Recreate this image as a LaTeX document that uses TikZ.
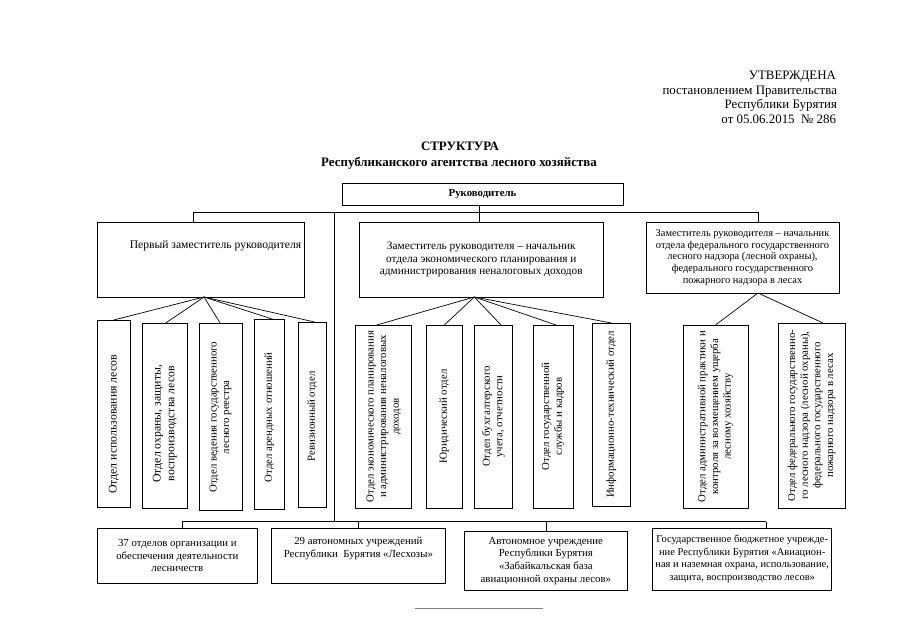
\documentclass[tikz,border=0pt]{standalone}
\usepackage{fontspec}
\setmainfont{Liberation Serif}
\usetikzlibrary{calc}
\begin{document}
\begin{tikzpicture}[x=1pt,y=-1pt,
  every node/.style={inner sep=0pt, outer sep=0pt},
  hbox/.style={draw, line width=0.7pt, align=center, font=\fontsize{10.8}{12.6}\selectfont},
  vbox/.style={draw, line width=0.7pt, align=center, rotate=90, font=\fontsize{10.8}{12.6}\selectfont},
  bigtext/.style={font=\fontsize{11.8}{13.6}\selectfont},
  link/.style={line width=0.7pt},
  hdr/.style={anchor=base east, font=\fontsize{12.9}{14.7}\selectfont},
  ttl/.style={anchor=base, font=\fontsize{12.9}{14.7}\selectfont\bfseries}]
\useasboundingbox (0,0) rectangle (905,640);

% header
\node[hdr] (h1) at (836,79) {УТВЕРЖДЕНА};
\node[hdr] (h2) at (837,94) {постановлением Правительства};
\node[hdr] (h3) at (837,108.5) {Республики Бурятия};
\node[hdr] (h4) at (836,123) {от 05.06.2015~~№ 286};
\node[ttl] (t1) at (460,150) {СТРУКТУРА};
\node[ttl] (t2) at (459,166) {Республиканского агентства лесного хозяйства};

% top level
\node[hbox, minimum width=281, minimum height=22, font=\fontsize{10.8}{12.6}\selectfont\bfseries] (R) at (482.5,194) {Руководитель};
\node[hbox, minimum width=207, minimum height=75, font=\fontsize{11.6}{12.6}\selectfont] (P1) at (200.5,259.5) {\hspace*{30pt}Первый заместитель руководителя\\ \strut\\ \strut};
\node[hbox, minimum width=243.4, minimum height=75, font=\fontsize{11.3}{12.6}\selectfont] (P2) at (481.3,259.5) {Заместитель руководителя – начальник\\ отдела экономического планирования и\\ администрирования неналоговых доходов};
\node[hbox, minimum width=193, minimum height=71, font=\fontsize{10.4}{11.8}\selectfont] (P3) at (742.5,257.5) {Заместитель руководителя – начальник\\ отдела федерального государственного\\ лесного надзора (лесной охраны),\\ федерального государственного\\ пожарного надзора в лесах};

% vertical boxes (rotated: width = box height, height = box width)
\node[vbox, bigtext, minimum width=187, minimum height=32.5] (a) at (113.75,413.5) {Отдел использования лесов\hspace*{22pt}};
\node[vbox, bigtext, minimum width=184.4, minimum height=44.3] (b) at (164.85,415.8) {Отдел охраны, защиты,\hspace*{16pt}\\ воспроизводства лесов\hspace*{16pt}};
\node[vbox, minimum width=187.1, minimum height=43] (c) at (220.5,417.15) {Отдел ведения государственного\\ лесного реестра};
\node[vbox, minimum width=189.5, minimum height=30.6] (d) at (269.3,414.25) {Отдел арендных отношений\hspace*{6pt}};
\node[vbox, minimum width=185, minimum height=27.5] (e) at (312.25,414.5) {Ревизионный отдел\hspace*{4pt}};

\node[vbox, minimum width=183, minimum height=56] (f) at (383.7,416.5) {Отдел экономического планирования\\ и администрирования неналоговых\\ доходов};
\node[vbox, minimum width=183, minimum height=36.7] (g) at (444.35,416.5) {Юридический отдел};
\node[vbox, minimum width=183, minimum height=38.7] (h) at (493.35,416.5) {Отдел бухгалтерского\\ учета, отчетности};
\node[vbox, minimum width=183, minimum height=40] (i) at (553,416.5) {Отдел государственной\\ службы и кадров};
\node[vbox, minimum width=183, minimum height=37.3] (j) at (611.35,414.5) {Информационно-технический отдел};

\node[vbox, minimum width=183, minimum height=65] (k) at (715.5,416.5) {Отдел административной практики и\\ контроля за возмещением ущерба\\ лесному хозяйству};
\node[vbox, minimum width=185, minimum height=67] (l) at (811.5,415.5) {Отдел федерального государственно-\\ го лесного надзора (лесной охраны),\\ федерального государственного\\ пожарного надзора в лесах};

% bottom row
\node[hbox, minimum width=160.7, minimum height=55] (A) at (177.35,555.5) {37 отделов организации и\\ обеспечения деятельности\\ лесничеств};
\node[hbox, minimum width=173.3, minimum height=55] (B) at (358.35,555.5) {29 автономных учреждений\\ Республики~~Бурятия «Лесхозы»\\ \strut};
\node[hbox, minimum width=163.7, minimum height=58.3] (C) at (545.85,560.85) {Автономное учреждение\\ Республики Бурятия\\ «Забайкальская база\\ авиационной охраны лесов»};
\node[hbox, minimum width=179, minimum height=62, font=\fontsize{10.5}{12.6}\selectfont] (D) at (742.2,559) {Государственное бюджетное учрежде-\\ ние Республики Бурятия «Авиацион-\\ ная и наземная охрана, использование,\\ защита, воспроизводство лесов»};

% buses
\coordinate (tl) at (193,212);
\coordinate (tr) at (758,212);
\coordinate (tk) at (334,212);
\coordinate (bl) at (182,521.7);
\coordinate (br) at (766,521.7);
\coordinate (bk) at (334,521.7);

\draw[link] ($(R.south)+(-3,0)$) -- ($(R.south |- P2.north)+(-3,0)$);
\draw[link] (tl) -- (tr);
\draw[link] (tl) -- (tl |- P1.north);
\draw[link] (tr) -- (tr |- P3.north);
\draw[link] (tk) -- (bk);
\draw[link] (bl) -- (br);
\draw[link] (bl) -- (bl |- A.north);
\draw[link] (B.north |- bl) -- (B.north);
\draw[link] (C.north |- bl) -- (C.north);
\draw[link] (br) -- (br |- D.north);

% fans
\coordinate (ap1) at ($(P1.south)+(3.5,0)$);
\coordinate (ap2) at ($(P2.south)+(-7,0)$);
\coordinate (ap3) at ($(P3.south)+(15.5,0)$);
\draw[link] (ap1) -- (a.east);
\draw[link] (ap1) -- (b.east);
\draw[link] (ap1) -- (c.east);
\draw[link] (ap1) -- ($(d.east)+(4.4,0)$);
\draw[link] (ap1) -- ($(e.east)+(2.3,0)$);
\draw[link] (ap2) -- ($(f.east)+(-7,0)$);
\draw[link] (ap2) -- (g.east);
\draw[link] (ap2) -- ($(h.east)+(7.7,0)$);
\draw[link] (ap2) -- ($(i.east)+(3,0)$);
\draw[link] (ap2) -- (j.east);
\draw[link] (ap3) -- (k.east);
\draw[link] (ap3) -- ($(l.east)+(11.5,0)$);

% footnote rule
\draw[gray, line width=1pt] (415,608) -- (543,608);
\end{tikzpicture}
\end{document}
